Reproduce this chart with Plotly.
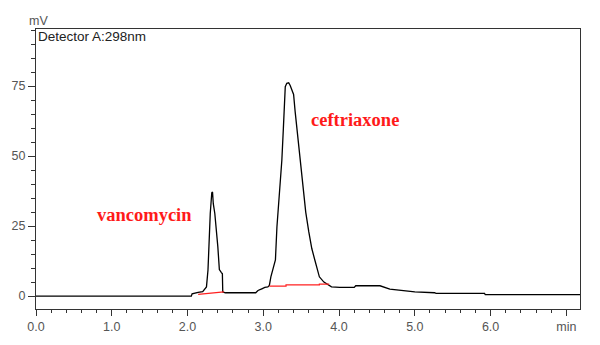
import plotly.graph_objects as go

# Chromatogram trace (time in min, signal in mV)
time_min = [0.00, 2.05, 2.06, 2.12, 2.14, 2.20, 2.23, 2.25, 2.27, 2.28, 2.30, 2.32, 2.33, 2.34,
            2.36, 2.40, 2.42, 2.445, 2.46, 2.465, 2.50, 2.90, 2.93, 2.98, 3.02, 3.06, 3.08,
            3.10, 3.13, 3.16, 3.18, 3.20, 3.22, 3.245, 3.265, 3.28, 3.29, 3.31, 3.335, 3.355,
            3.375, 3.40, 3.42, 3.46, 3.50, 3.53, 3.56, 3.60, 3.64, 3.68, 3.74, 3.80, 3.84, 3.87,
            3.90, 4.01, 4.20, 4.22, 4.54, 4.67, 4.85, 5.00, 5.26, 5.28, 5.92, 5.93, 7.18]
signal_mv = [0.0, 0.0, 0.8, 1.0, 1.3, 1.6, 2.4, 3.3, 9.3, 17.6, 29.5, 36.9, 37.2, 33.0,
             29.5, 17.6, 9.5, 8.5, 8.0, 1.5, 1.2, 1.2, 2.0, 2.6, 3.1, 3.3, 3.8,
             6.9, 10.0, 12.9, 24.8, 32.0, 40.0, 48.6, 60.0, 70.0, 74.8, 76.0, 76.2, 75.2,
             73.5, 72.0, 66.0, 56.0, 47.0, 38.0, 30.0, 23.0, 17.0, 12.9, 6.9, 5.0, 4.3, 3.9,
             3.3, 3.1, 3.1, 3.7, 3.7, 2.5, 2.0, 1.5, 1.2, 1.0, 1.0, 0.5, 0.5]

# Integration baselines (red)
base1_t = [2.14, 2.48]
base1_v = [0.6, 1.5]
base2_t = [3.08, 3.30, 3.30, 3.74, 3.74, 3.87]
base2_v = [3.6, 3.6, 4.0, 4.0, 4.3, 4.3]

x_tick_vals = [0, 1, 2, 3, 4, 5, 6, 7]
x_tick_text = ["0.0", "1.0", "2.0", "3.0", "4.0", "5.0", "6.0", "min"]
y_tick_vals = [0, 25, 50, 75]

peak_names = ["vancomycin", "ceftriaxone"]
peak_label_t = [1.43, 4.21]
peak_label_v = [28.9, 62.9]

fig = go.Figure()
fig.add_trace(go.Scatter(x=time_min, y=signal_mv, mode="lines",
                         line=dict(color="black", width=1.3), hoverinfo="skip"))
fig.add_trace(go.Scatter(x=base1_t, y=base1_v, mode="lines",
                         line=dict(color="#ff2020", width=1.2), hoverinfo="skip"))
fig.add_trace(go.Scatter(x=base2_t, y=base2_v, mode="lines",
                         line=dict(color="#ff2020", width=1.2), hoverinfo="skip"))

for name, t, v in zip(peak_names, peak_label_t, peak_label_v):
    fig.add_annotation(x=t, y=v, xref="x", yref="y", text="<b>" + name + "</b>",
                       showarrow=False,
                       font=dict(family="Liberation Serif", size=18.5, color="#ff1a1a"))

fig.add_annotation(x=0, y=1, xref="paper", yref="paper", xanchor="left", yanchor="top",
                   xshift=0, yshift=2, text="Detector A:298nm", showarrow=False,
                   font=dict(family="Liberation Sans", size=13.5, color="#222222"))
fig.add_annotation(x=0, y=1, xref="paper", yref="paper", xanchor="center", yanchor="bottom",
                   xshift=2, yshift=-1, text="mV", showarrow=False,
                   font=dict(family="Liberation Sans", size=12.5, color="#555555"))

fig.update_layout(
    width=592, height=337,
    margin=dict(l=28, r=20, t=21, b=36, autoexpand=False),
    paper_bgcolor="white", plot_bgcolor="white",
    showlegend=False,
    font=dict(family="Liberation Sans", size=12.5, color="#555555"),
    xaxis=dict(range=[0, 7.18], tickvals=x_tick_vals, ticktext=x_tick_text,
               automargin=False,
               ticks="outside", ticklen=6, tickwidth=1, tickcolor="#333333",
               showline=True, linecolor="#333333", linewidth=1.3, mirror=True,
               showgrid=False, zeroline=False,
               minor=dict(dtick=0.2, ticks="outside", ticklen=3, tickcolor="#333333", showgrid=False),
               tickfont=dict(size=12.5, color="#555555")),
    yaxis=dict(range=[-4.6, 95.4], tickvals=y_tick_vals,
               automargin=False,
               ticks="outside", ticklen=7, tickwidth=1, tickcolor="#333333",
               showline=True, linecolor="#333333", linewidth=1.3, mirror=True,
               showgrid=False, zeroline=False,
               minor=dict(dtick=5, ticks="outside", ticklen=4, tickcolor="#333333", showgrid=False),
               tickfont=dict(size=12.5, color="#555555")),
)

fig.write_html("out.html")
